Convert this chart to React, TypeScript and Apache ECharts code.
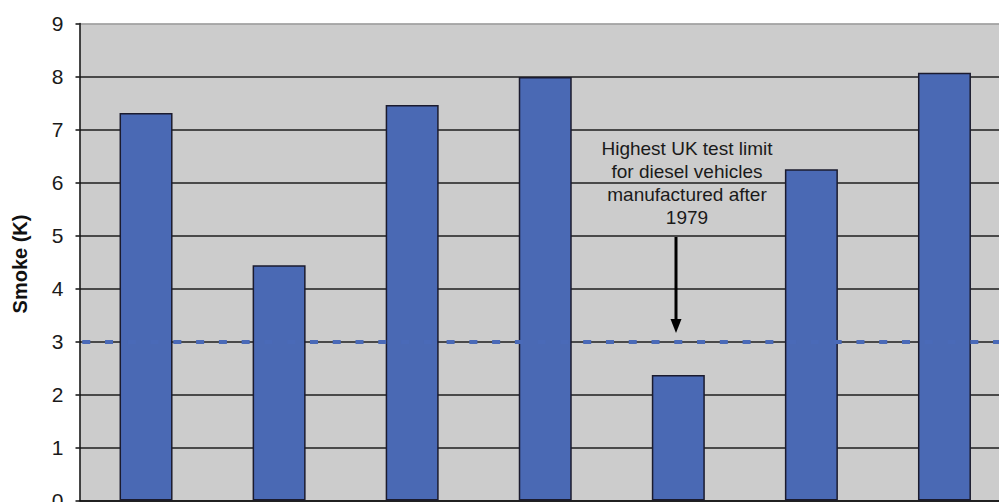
import React, { useEffect, useRef } from "react";
import * as echarts from "echarts";

const categories = ["1", "2", "3", "4", "5", "6", "7"];
const smokeValues = [7.31, 4.44, 7.46, 7.99, 2.37, 6.25, 8.07];
const limitValue = 3;
const yTicks = [0, 1, 2, 3, 4, 5, 6, 7, 8, 9];
const annotationLines = [
  "Highest UK test limit",
  "for diesel vehicles",
  "manufactured after",
  "1979",
];
const yAxisTitle = "Smoke (K)";

const FONT = '"Liberation Sans", Arial, sans-serif';

export default function App() {
  const ref = useRef<HTMLDivElement>(null);
  useEffect(() => {
    if (!ref.current) return;
    const chart = echarts.init(ref.current, null, { renderer: "svg" });
    const splitColors = yTicks.map((t, i) => (i === yTicks.length - 1 ? "#9a9a9a" : "#1e1e1e"));
    chart.setOption({
      animation: false,
      textStyle: { fontFamily: FONT },
      grid: {
        left: 79.5,
        top: 23.5,
        bottom: 1.5,
        right: -12,
        containLabel: false,
        outerBoundsMode: "none",
        show: true,
        backgroundColor: "#cccccc",
        borderWidth: 0,
      },
      xAxis: {
        type: "category",
        data: categories,
        axisLine: { show: true, lineStyle: { color: "#111", width: 1.5 } },
        axisTick: { show: false },
        axisLabel: { show: false },
        splitLine: { show: false },
      },
      yAxis: {
        type: "value",
        min: 0,
        max: 9,
        interval: 1,
        axisLine: { show: true, lineStyle: { color: "#111", width: 1.5 } },
        axisTick: { show: true, inside: false, length: 4, lineStyle: { color: "#111", width: 1.5 } },
        axisLabel: { fontSize: 21, color: "#1a1a1a", margin: 16, fontFamily: FONT },
        splitLine: { show: true, lineStyle: { color: splitColors, width: 1.5 } },
      },
      series: [
        {
          type: "line",
          data: [],
          z: 1,
          silent: true,
          markLine: {
            silent: true,
            symbol: "none",
            label: { show: false },
            lineStyle: {
              type: [8, 14.77],
              dashOffset: 20.3,
              width: 4,
              color: "#4a6ab8",
            },
            data: [{ yAxis: limitValue }],
          },
        },
        {
          type: "bar",
          data: smokeValues,
          barWidth: 53,
          z: 3,
          itemStyle: {
            color: "#4a69b4",
            borderColor: "#1b1b2e",
            borderWidth: 1.5,
          },
        },
      ],
      graphic: [
        {
          type: "text",
          z: 10,
          style: {
            text: annotationLines.join("\n"),
            x: 687,
            y: 137,
            align: "center",
            verticalAlign: "top",
            font: `19px ${FONT}`,
            lineHeight: 23,
            fill: "#1a1a1a",
          },
        },
        {
          type: "line",
          z: 10,
          shape: { x1: 676, y1: 237, x2: 676, y2: 322 },
          style: { stroke: "#000", lineWidth: 3 },
        },
        {
          type: "polygon",
          z: 10,
          shape: { points: [[670.5, 319], [681.5, 319], [676, 333]] },
          style: { fill: "#000" },
        },
        {
          type: "text",
          z: 10,
          x: 20,
          y: 264,
          rotation: Math.PI / 2,
          style: {
            text: yAxisTitle,
            align: "center",
            verticalAlign: "middle",
            font: `bold 20px ${FONT}`,
            fill: "#111",
          },
        },
      ],
    });
    return () => chart.dispose();
  }, []);
  return (
    <div
      ref={ref}
      style={{ position: "fixed", left: 0, top: 0, width: 999, height: 502, background: "#fff" }}
    />
  );
}
